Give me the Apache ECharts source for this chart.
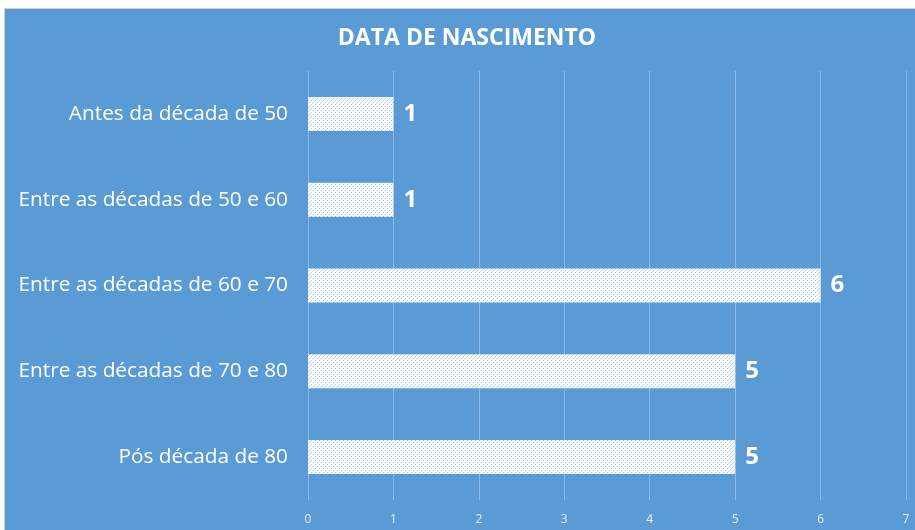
<!DOCTYPE html>
<html>
<head>
<meta charset="utf-8">
<script src="https://cdn.jsdelivr.net/npm/echarts@6/dist/echarts.min.js"></script>
<style>
  html, body { margin: 0; padding: 0; background: #fff; }
  .box {
    position: absolute; left: 4px; top: 8px; width: 930px; height: 540px;
    background: #5b9bd5; border: 1px solid #d0d0d0; box-sizing: border-box;
  }
  #chart { position: absolute; left: 0; top: 0; width: 915px; height: 530px; }
</style>
</head>
<body>
<div class="box"></div>
<div id="chart"></div>
<script>
// categories listed bottom to top (category axis draws first item at the bottom)
const categories = [
  'Pós década de 80',
  'Entre as décadas de 70 e 80',
  'Entre as décadas de 60 e 70',
  'Entre as décadas de 50 e 60',
  'Antes da década de 50'
]
const values = [5, 5, 6, 1, 1]

// hatch fill: white with thin light-blue dotted diagonals
function makeHatch() {
  const c = document.createElement('canvas')
  c.width = 4
  c.height = 4
  const ctx = c.getContext('2d')
  ctx.fillStyle = '#ffffff'
  ctx.fillRect(0, 0, 4, 4)
  for (let i = 0; i < 4; i++) {
    ctx.fillStyle = i % 2 ? '#a6c8ea' : '#cde0f4'
    ctx.fillRect(i, 3 - i, 1, 1)
  }
  return c
}

const chart = echarts.init(document.getElementById('chart'))
chart.setOption({
  backgroundColor: 'transparent',
  animation: false,
  title: {
    text: 'DATA DE NASCIMENTO',
    left: 462,
    textAlign: 'center',
    top: 22,
    textStyle: { color: '#fff', fontSize: 23, fontWeight: 'bold', fontFamily: 'Open Sans' }
  },
  grid: { left: 308, right: 9, top: 71, bottom: 30 },
  xAxis: {
    type: 'value',
    min: 0,
    max: 7,
    interval: 1,
    axisLine: { show: false },
    axisTick: { show: false },
    axisLabel: { color: '#e4eef8', fontSize: 12, fontFamily: 'Open Sans', margin: 14 },
    splitLine: { lineStyle: { color: 'rgba(255,255,255,0.3)', width: 1 } }
  },
  yAxis: {
    type: 'category',
    data: categories,
    axisLine: { show: false },
    axisTick: { show: false },
    axisLabel: { color: '#fff', fontSize: 20.8, fontFamily: 'Open Sans', margin: 20, padding: [3, 0, 0, 0] }
  },
  series: [{
    type: 'bar',
    data: values,
    barWidth: 34,
    itemStyle: { color: { image: makeHatch(), repeat: 'repeat' } },
    label: {
      show: true,
      position: 'right',
      distance: 10,
      color: '#fff',
      fontSize: 24,
      fontWeight: 'bold',
      fontFamily: 'Open Sans'
    }
  }]
})
</script>
</body>
</html>
